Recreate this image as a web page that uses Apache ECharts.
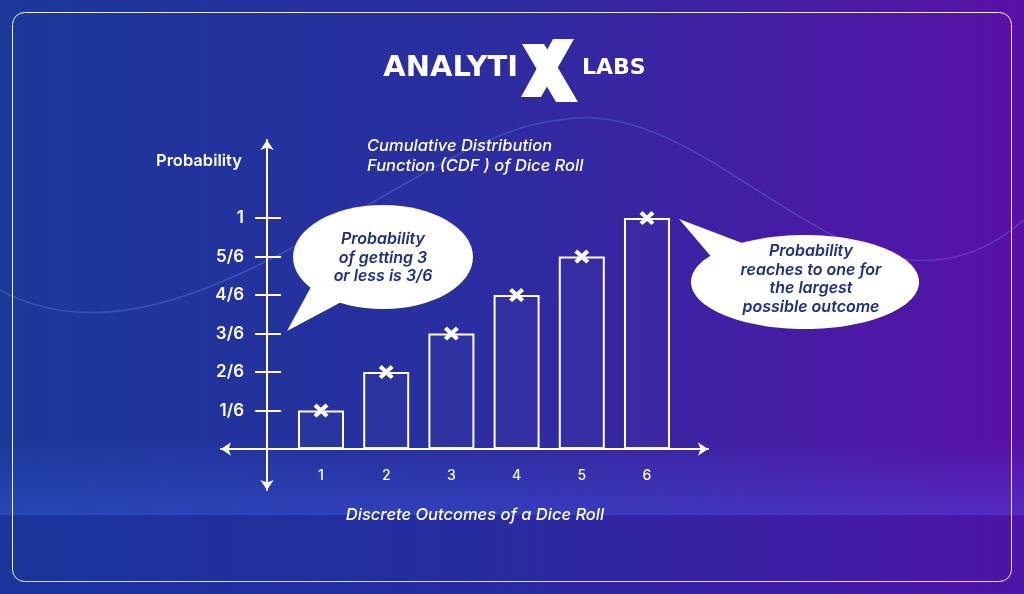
<!DOCTYPE html>
<html>
<head>
<meta charset="utf-8">
<title>CDF of Dice Roll</title>
<script src="https://cdn.jsdelivr.net/npm/echarts@6/dist/echarts.min.js"></script>
<style>
  html, body { margin: 0; padding: 0; background: #1c3796; }
  #chart { width: 1024px; height: 594px; }
</style>
</head>
<body>
<div id="chart"></div>
<script>
// data
const outcomes = [1, 2, 3, 4, 5, 6]
const cdfValues = [1 / 6, 2 / 6, 3 / 6, 4 / 6, 5 / 6, 1]
const probTicks = [1 / 6, 2 / 6, 3 / 6, 4 / 6, 5 / 6, 1]
const probLabels = ['1/6', '2/6', '3/6', '4/6', '5/6', '1']

// layout: value 0..1 on y maps to 449..218 px, outcome 1..6 on x maps to 321..647 px
const X_MIN = -0.534
const X_MAX = 6.936
const Y_MIN = -0.177
const Y_MAX = 1.338

const FONT = 'Inter, "Open Sans", sans-serif'
const NAVY = '#1d2f82'

const chart = echarts.init(document.getElementById('chart'))

const crossPath = 'path://M2,0 L5,3 L8,0 L10,2 L7,5 L10,8 L8,10 L5,7 L2,10 L0,8 L3,5 L0,2 Z'

const probLabel = (v) => {
  const i = Math.round(v * 6) - 1
  return probLabels[i] || ''
}

const yAxisBase = {
  type: 'value',
  min: Y_MIN,
  max: Y_MAX,
  position: 'left',
  offset: -46,
  splitLine: { show: false }
}

const option = {
  animation: false,
  graphic: [
    {
      type: 'rect', z: -10, silent: true,
      shape: { x: 0, y: 0, width: 1024, height: 594 },
      style: {
        fill: new echarts.graphic.LinearGradient(0, 0, 1, 0, [
          { offset: 0, color: '#1b389a' },
          { offset: 0.45, color: '#2a2ea0' },
          { offset: 1, color: '#5a10a8' }
        ])
      }
    },
    {
      type: 'rect', z: -9, silent: true,
      shape: { x: 0, y: 440, width: 1024, height: 75 },
      style: {
        fill: new echarts.graphic.LinearGradient(0, 0, 0, 1, [
          { offset: 0, color: 'rgba(70,110,255,0)' },
          { offset: 1, color: 'rgba(70,110,255,0.28)' }
        ])
      }
    },
    {
      type: 'rect', z: -9, silent: true,
      shape: { x: 0, y: 515, width: 1024, height: 79 },
      style: { fill: 'rgba(20,40,160,0.18)' }
    },
    {
      type: 'bezierCurve', z: -8, silent: true,
      shape: { x1: 0, y1: 290, x2: 560, y2: 120, cpx1: 180, cpy1: 390, cpx2: 420, cpy2: 130 },
      style: { stroke: 'rgba(120,170,255,0.25)', lineWidth: 1.5, fill: null }
    },
    {
      type: 'bezierCurve', z: -8, silent: true,
      shape: { x1: 560, y1: 120, x2: 1024, y2: 220, cpx1: 720, cpy1: 90, cpx2: 860, cpy2: 360 },
      style: { stroke: 'rgba(120,170,255,0.25)', lineWidth: 1.5, fill: null }
    },
    {
      type: 'rect', silent: true,
      shape: { x: 12.5, y: 12.5, width: 999, height: 569, r: 12 },
      style: { fill: null, stroke: 'rgba(255,255,255,0.9)', lineWidth: 1 }
    },
    // logo
    {
      type: 'text', silent: true,
      style: { x: 518, y: 68, text: 'ANALYTI', fill: '#fff', font: '700 29px "DejaVu Sans", sans-serif', align: 'right', verticalAlign: 'middle' }
    },
    {
      type: 'polygon', silent: true,
      shape: { points: [[522, 44], [544, 44], [578, 102], [556, 102]] },
      style: { fill: '#fff' }
    },
    {
      type: 'polygon', silent: true,
      shape: { points: [[553, 39], [574, 39], [541, 97], [521, 97]] },
      style: { fill: '#fff' }
    },
    {
      type: 'text', silent: true,
      style: { x: 582, y: 68, text: 'LABS', fill: '#fff', font: '700 22px "DejaVu Sans", sans-serif', align: 'left', verticalAlign: 'middle' }
    },
    // titles
    {
      type: 'text', silent: true,
      style: {
        x: 367, y: 156, text: 'Cumulative Distribution\nFunction (CDF ) of Dice Roll',
        fill: '#fff', font: 'italic 500 16.5px ' + FONT, lineHeight: 20, align: 'left', verticalAlign: 'middle'
      }
    },
    {
      type: 'text', silent: true,
      style: { x: 199, y: 161, text: 'Probability', fill: '#fff', font: '600 16.5px ' + FONT, align: 'center', verticalAlign: 'middle' }
    },
    {
      type: 'text', silent: true,
      style: { x: 475, y: 515, text: 'Discrete Outcomes of a Dice Roll', fill: '#fff', font: 'italic 500 16.5px ' + FONT, align: 'center', verticalAlign: 'middle' }
    },
    // bubble 1
    {
      type: 'polygon', silent: true, z: 20,
      shape: { points: [[312, 285], [287, 331], [345, 300]] },
      style: { fill: '#fff' }
    },
    {
      type: 'ellipse', silent: true, z: 20,
      shape: { cx: 383, cy: 257, rx: 90, ry: 52 },
      style: { fill: '#fff' }
    },
    {
      type: 'text', silent: true, z: 21,
      style: {
        x: 383, y: 258, text: 'Probability\nof getting 3\nor less is 3/6',
        fill: NAVY, font: 'italic 600 16px ' + FONT, lineHeight: 18.5, align: 'center', verticalAlign: 'middle'
      }
    },
    // bubble 2
    {
      type: 'polygon', silent: true, z: 20,
      shape: { points: [[714, 260], [679, 219], [750, 246]] },
      style: { fill: '#fff' }
    },
    {
      type: 'ellipse', silent: true, z: 20,
      shape: { cx: 805, cy: 282, rx: 114, ry: 47 },
      style: { fill: '#fff' }
    },
    {
      type: 'text', silent: true, z: 21,
      style: {
        x: 811, y: 279, text: 'Probability\nreaches to one for\nthe largest\npossible outcome',
        fill: NAVY, font: 'italic 600 16px ' + FONT, lineHeight: 18.5, align: 'center', verticalAlign: 'middle'
      }
    }
  ],
  grid: { left: 221, right: 316, top: 140, bottom: 104 },
  xAxis: {
    type: 'value',
    min: X_MIN,
    max: X_MAX,
    position: 'bottom',
    offset: -41,
    axisLine: {
      show: true,
      onZero: false,
      symbol: ['arrow', 'arrow'],
      symbolSize: [10, 10],
      lineStyle: { color: '#fff', width: 2 }
    },
    axisTick: { show: false },
    splitLine: { show: false },
    axisLabel: {
      customValues: outcomes,
      color: '#fff',
      fontFamily: FONT,
      fontSize: 14,
      fontWeight: 500,
      margin: 20
    }
  },
  yAxis: [
    Object.assign({}, yAxisBase, {
      axisLine: {
        show: true,
        onZero: false,
        symbol: ['arrow', 'arrow'],
        symbolSize: [10, 10],
        lineStyle: { color: '#fff', width: 2 }
      },
      axisTick: { show: true, customValues: probTicks, length: 12, lineStyle: { color: '#fff', width: 2 } },
      axisLabel: {
        customValues: probTicks,
        formatter: probLabel,
        color: '#fff',
        fontFamily: FONT,
        fontSize: 17,
        fontWeight: 600,
        margin: 23
      }
    }),
    Object.assign({}, yAxisBase, {
      axisLine: { show: false, onZero: false },
      axisTick: { show: true, inside: true, customValues: probTicks, length: 14, lineStyle: { color: '#fff', width: 2 } },
      axisLabel: { show: false }
    })
  ],
  series: [
    {
      type: 'bar',
      name: 'CDF',
      data: outcomes.map((x, i) => [x, cdfValues[i]]),
      barWidth: 46,
      itemStyle: { color: 'rgba(255,255,255,0.02)', borderColor: '#fff', borderWidth: 2 },
      z: 5
    },
    {
      type: 'scatter',
      name: 'marker',
      data: outcomes.map((x, i) => [x, cdfValues[i]]),
      symbol: crossPath,
      symbolSize: [15, 14],
      itemStyle: { color: '#fff', opacity: 1 },
      z: 6
    }
  ]
}

chart.setOption(option)
</script>
</body>
</html>
